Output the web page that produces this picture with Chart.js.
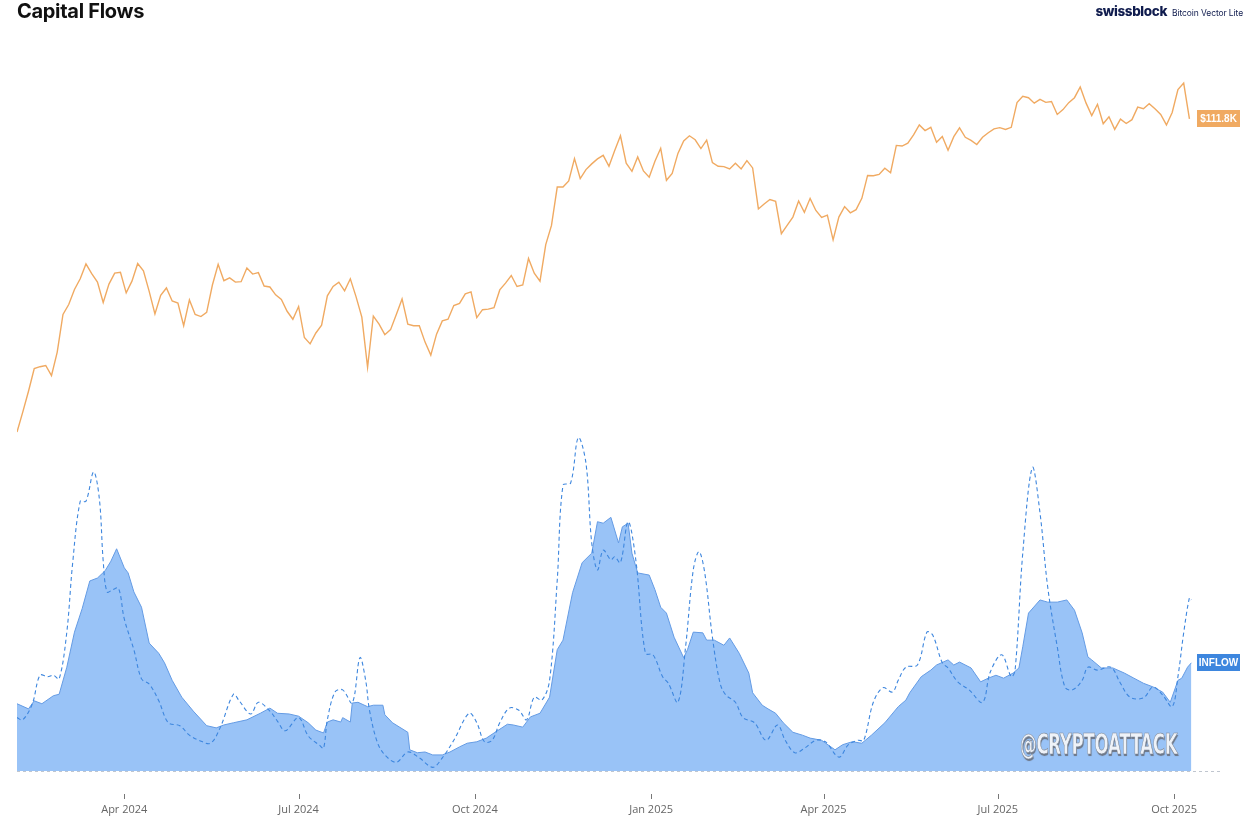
<!DOCTYPE html>
<html>
<head>
<meta charset="utf-8">
<title>Capital Flows</title>
<script src="https://cdn.jsdelivr.net/npm/chart.js@4.4.1/dist/chart.umd.min.js"></script>
<style>
  body { margin: 0; background: #fff; font-family: Inter, "Noto Sans", sans-serif; }
  #wrap { position: relative; width: 1249px; height: 825px; }
  #title { position: absolute; left: 17px; top: -1px; font-size: 20px; font-weight: 700; letter-spacing: -0.3px; color: #111; }
  #brand { position: absolute; right: 6px; top: 0px; color: #101c4e; white-space: nowrap; }
  #brand b { font-size: 13.5px; font-weight: 800; letter-spacing: -0.4px; }
  #brand span { font-size: 8.5px; margin-left: 5px; letter-spacing: -0.1px; }
  #mark { position: absolute; left: 1020px; top: 727px; font-family: "DejaVu Sans Condensed", "DejaVu Sans", sans-serif;
          font-weight: 700; font-size: 29px; color: #eef2f8; transform: scaleX(0.64); transform-origin: left top;
          -webkit-text-stroke: 0.6px #7d8796; text-shadow: 1px 2px 1px #6c7585; letter-spacing: -0.5px; }
</style>
</head>
<body>
<div id="wrap">
  <canvas id="flowChart"></canvas>
  <div id="title">Capital Flows</div>
  <div id="brand"><b>swissblock</b><span>Bitcoin Vector Lite</span></div>
  <div id="mark">@CRYPTOATTACK</div>
</div>
<script>
// days counted from 5 Feb 2024
const tickDays = [56, 147, 239, 331, 421, 512, 604];
const tickLabels = ["Apr 2024", "Jul 2024", "Oct 2024", "Jan 2025", "Apr 2025", "Jul 2025", "Oct 2025"];

// BTC price in $K, one value every 3 days
const PRICE_STEP = 3;
const price = [
  42.6, 45.3, 48.3, 51.8, 52.1, 52.3, 50.7, 54.5, 61.2,
  63.1, 66.1, 68.3, 71.5, 69.4, 67.6, 63.5, 67.2, 69.5, 69.7,
  65.4, 67.8, 71.6, 70.0, 65.7, 61.3, 64.9, 66.4, 63.8, 63.4,
  59.1, 64.0, 61.2, 60.8, 61.6, 67.0, 71.4, 67.9, 68.5, 67.6,
  67.7, 70.6, 69.3, 69.6, 66.8, 66.6, 65.0, 64.1, 61.8, 60.3,
  62.7, 57.0, 55.9, 57.8, 59.2, 64.8, 66.7, 67.6, 65.8, 68.3, 64.6,
  60.7, 52.0, 60.9, 59.4, 57.5, 58.4, 61.2, 64.2, 59.4, 59.1,
  59.1, 56.2, 54.0, 57.6, 60.0, 60.3, 62.9, 63.3, 65.2, 65.6,
  60.6, 62.1, 62.2, 62.5, 66.0, 67.4, 69.0, 66.7, 67.0, 72.7,
  69.5, 67.8, 75.9, 80.5, 90.6, 90.6, 92.3, 98.9, 93.0, 95.6,
  97.3, 98.8, 99.9, 96.6, 101.4, 106.1, 97.5, 95.1, 99.4, 95.2, 93.4,
  98.1, 102.1, 92.5, 94.5, 100.5, 104.4, 106.1, 104.8, 102.0, 104.7,
  97.7, 96.6, 96.5, 95.8, 97.5, 95.8, 98.3, 96.1, 84.7,
  86.0, 87.2, 86.7, 78.5, 80.5, 82.6, 86.8, 83.8, 87.5, 84.3, 82.5,
  83.1, 77.0, 82.6, 85.3, 83.7, 84.5, 87.5, 93.9, 93.8, 94.2,
  96.0, 94.7, 103.0, 102.8, 103.7, 106.4, 109.7, 107.8, 108.9, 104.0,
  105.9, 101.5, 105.8, 108.7, 105.6, 104.6, 103.3, 105.6, 107.1, 108.4,
  108.8, 108.2, 108.9, 117.5, 119.8, 119.3, 117.3, 118.7, 117.6, 117.9,
  113.3, 115.0, 117.5, 119.3, 123.3, 117.4, 112.9, 116.9, 110.1, 112.5, 108.2,
  111.7, 110.2, 111.5, 115.9, 115.3, 117.1, 115.3, 113.3, 109.7, 114.0,
  122.3, 124.8, 111.8
];

// Inflow (filled area)
const inflowDays = [
  0, 6, 9, 13, 19, 22, 26, 30, 34, 38, 42, 46, 49, 52, 56, 58, 61, 65, 69, 74,
  77, 81, 86, 92, 99, 104, 108, 113, 120, 127, 132, 136, 142, 147, 152, 156, 160, 162, 165, 169,
  170, 174, 175, 178, 183, 186, 191, 192, 196, 204, 205, 209, 213, 217, 222, 226, 231, 235, 240, 245,
  249, 256, 259, 264, 268, 273, 278, 282, 285, 290, 295, 300, 303, 306, 310, 314, 316, 319, 321, 324,
  330, 333, 336, 339, 343, 348, 350, 353, 358, 360, 364, 369, 372, 377, 382, 384, 389, 392, 396, 400,
  405, 410, 414, 420, 427, 431, 436, 441, 446, 453, 460, 464, 466, 472, 477, 480, 486, 489, 492, 498,
  503, 507, 511, 515, 520, 523, 525, 528, 534, 538, 543, 548, 552, 556, 559, 561, 566, 572, 578, 583,
  588, 593, 598, 602, 606, 608, 611, 613
];
const inflow = [
  9.2, 8.5, 9.6, 9.2, 10.3, 10.5, 14.2, 19.0, 22.2, 26.0, 26.4, 27.4, 28.7, 30.4, 27.8, 27.1, 24.5, 22.4, 17.5, 16.1,
  14.8, 12.4, 10.1, 8.2, 6.2, 5.9, 6.3, 6.6, 7.0, 7.9, 8.6, 7.9, 7.8, 7.5, 6.6, 5.6, 5.2, 6.7, 7.0, 6.7,
  7.3, 6.7, 9.3, 9.4, 8.8, 9.0, 9.0, 7.7, 6.6, 5.3, 2.9, 2.5, 2.6, 2.2, 2.2, 2.6, 3.3, 3.8, 4.0, 4.5,
  5.2, 6.4, 6.3, 6.0, 7.4, 7.9, 10.1, 16.6, 17.9, 24.4, 28.5, 29.8, 34.1, 33.9, 34.7, 31.2, 33.4, 33.9, 29.8, 27.1,
  26.8, 24.8, 22.4, 21.6, 18.3, 15.5, 16.6, 19.0, 18.9, 17.9, 17.9, 17.2, 18.2, 16.1, 13.4, 10.7, 9.0, 8.5, 7.9, 6.6,
  5.3, 4.9, 4.5, 4.2, 2.9, 3.6, 4.0, 3.8, 4.9, 6.6, 8.8, 9.7, 10.7, 12.9, 13.8, 14.5, 15.2, 14.5, 14.9, 14.1,
  12.2, 12.7, 13.1, 12.7, 13.4, 14.1, 17.0, 21.6, 23.4, 23.1, 23.1, 23.4, 22.0, 18.9, 15.6, 15.2, 14.1, 14.1, 13.4, 12.7,
  12.0, 11.5, 10.8, 9.4, 12.4, 12.7, 14.2, 14.8
];

// dashed line
const flowDays = [
  0, 3, 8, 12, 16, 19, 22, 26, 29, 33, 36, 40, 43, 45, 47, 50, 53, 56, 61, 65,
  69, 74, 79, 85, 90, 95, 101, 106, 113, 116, 122, 126, 132, 136, 140, 147, 152, 158, 160, 162,
  166, 170, 175, 179, 182, 184, 188, 192, 198, 204, 210, 217, 222, 228, 236, 240, 244, 248, 252, 257,
  262, 266, 270, 274, 278, 282, 285, 289, 293, 297, 300, 303, 306, 310, 312, 315, 319, 323, 328, 332,
  337, 340, 345, 349, 353, 356, 359, 363, 367, 370, 375, 379, 385, 391, 397, 401, 406, 411, 417, 422,
  429, 434, 439, 442, 447, 452, 457, 460, 464, 470, 475, 478, 483, 486, 491, 497, 504, 508, 514, 519,
  521, 525, 530, 534, 538, 543, 547, 551, 556, 559, 564, 571, 576, 581, 588, 593, 598, 603, 606, 609,
  612, 613
];
const flow = [
  7.3, 7.0, 9.2, 13.1, 12.9, 13.1, 12.6, 19.0, 28.3, 36.9, 36.9, 40.9, 37.2, 28.7, 24.5, 24.8, 25.0, 20.8, 16.6, 12.6,
  11.9, 9.6, 6.6, 6.2, 4.9, 4.2, 3.8, 5.9, 10.5, 9.6, 7.8, 9.4, 8.2, 6.8, 5.5, 7.3, 4.8, 3.5, 3.1, 7.0,
  10.8, 11.1, 9.3, 15.5, 12.4, 8.3, 4.0, 2.2, 1.2, 2.6, 1.8, 0.5, 1.8, 4.2, 7.9, 6.6, 4.0, 4.2, 6.6, 8.6,
  8.3, 7.0, 10.1, 9.7, 12.4, 26.1, 39.1, 39.4, 45.6, 42.1, 31.2, 27.5, 30.2, 28.9, 29.3, 28.5, 34.1, 28.9, 16.1, 15.9,
  12.9, 12.0, 9.4, 17.0, 27.5, 30.0, 27.1, 18.3, 12.0, 10.4, 9.4, 7.3, 6.6, 4.2, 6.3, 4.2, 2.5, 3.1, 4.2, 4.0,
  1.9, 3.6, 4.2, 4.2, 9.4, 11.4, 10.8, 12.4, 14.2, 14.5, 19.0, 18.6, 14.8, 14.1, 12.2, 11.1, 9.4, 13.5, 15.9, 12.9,
  13.8, 29.8, 41.5, 35.3, 25.2, 17.0, 11.5, 11.1, 12.4, 14.2, 13.8, 14.2, 12.0, 10.1, 10.0, 11.5, 10.4, 8.8, 12.9, 18.9,
  23.7, 23.4
];

const ORANGE = "rgb(240, 170, 98)";
const BLUE = "rgb(61, 134, 222)";

// small tick marks under the plot, zero dashed line and end badges
const extras = {
  id: "extras",
  afterDatasetsDraw(chart) {
    const ctx = chart.ctx;
    const area = chart.chartArea;
    const xs = chart.scales.x;
    ctx.save();
    // zero line
    const y0 = chart.scales.yFlow.getPixelForValue(0);
    ctx.strokeStyle = "rgba(150,160,175,0.6)";
    ctx.setLineDash([3, 3]);
    ctx.lineWidth = 1;
    ctx.beginPath();
    ctx.moveTo(area.left, y0 + 0.5);
    ctx.lineTo(area.right, y0 + 0.5);
    ctx.stroke();
    ctx.setLineDash([]);
    // tick marks
    ctx.strokeStyle = "#777";
    tickDays.forEach((d) => {
      const x = Math.round(xs.getPixelForValue(d)) + 0.5;
      ctx.beginPath();
      ctx.moveTo(x, area.bottom + 23);
      ctx.lineTo(x, area.bottom + 28);
      ctx.stroke();
    });
    // badges
    const badge = (text, color, y) => {
      ctx.font = "bold 10px 'Liberation Sans', Arial, sans-serif";
      const w = 43, h = 17, x = area.right - 25;
      ctx.fillStyle = color;
      ctx.fillRect(x, Math.round(y - h / 2), w, h);
      ctx.fillStyle = "#fff";
      ctx.textAlign = "center";
      ctx.textBaseline = "middle";
      ctx.fillText(text, x + w / 2, y + 0.5);
    };
    const lastPrice = price[price.length - 1];
    badge("$" + lastPrice.toFixed(1) + "K", ORANGE, chart.scales.yPrice.getPixelForValue(lastPrice));
    badge("INFLOW", BLUE, chart.scales.yFlow.getPixelForValue(inflow[inflow.length - 1]));
    ctx.restore();
  },
};

const ctx = document.getElementById("flowChart").getContext("2d");
new Chart(ctx, {
  type: "line",
  data: {
    datasets: [
      {
        label: "BTC",
        data: price.map((p, i) => ({ x: i * PRICE_STEP, y: p })),
        yAxisID: "yPrice",
        borderColor: ORANGE,
        borderWidth: 1.4,
        pointRadius: 0,
        tension: 0,
      },
      {
        label: "Flow",
        data: flowDays.map((d, i) => ({ x: d, y: flow[i] })),
        yAxisID: "yFlow",
        borderColor: BLUE,
        borderWidth: 1.1,
        borderDash: [4, 3],
        pointRadius: 0,
        tension: 0.35,
        fill: false,
      },
      {
        label: "Inflow",
        data: inflowDays.map((d, i) => ({ x: d, y: inflow[i] })),
        yAxisID: "yFlow",
        borderColor: "rgb(100, 155, 228)",
        borderWidth: 1,
        backgroundColor: "rgb(153, 195, 247)",
        pointRadius: 0,
        tension: 0,
        fill: "origin",
      },
    ],
  },
  options: {
    responsive: true,
    maintainAspectRatio: false,
    animation: false,
    layout: { padding: { left: 17, right: 27, top: 40, bottom: 0 } },
    plugins: { legend: { display: false }, tooltip: { enabled: false } },
    scales: {
      x: {
        type: "linear",
        min: 0,
        max: 629,
        afterFit: (scale) => { scale.height = 54; },
        afterBuildTicks: (scale) => { scale.ticks = tickDays.map((d) => ({ value: d })); },
        grid: { display: false },
        border: { display: false },
        ticks: {
          autoSkip: false,
          maxRotation: 0,
          padding: 24,
          color: "#666",
          font: { family: "'Open Sans', sans-serif", size: 11 },
          callback: (v) => tickLabels[tickDays.indexOf(v)],
        },
      },
      yPrice: { type: "logarithmic", display: false, min: 15, max: 142.5 },
      yFlow: { type: "linear", display: false, min: 0, max: 100 },
    },
  },
  plugins: [extras],
});
</script>
</body>
</html>
